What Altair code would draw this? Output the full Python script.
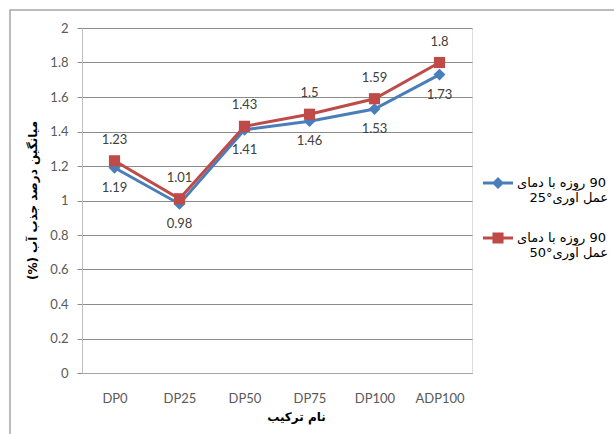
import altair as alt
import pandas as pd

# Mix designs on the x axis
mixes = ["DP0", "DP25", "DP50", "DP75", "DP100", "ADP100"]

# Mean water absorption (%) after 90 days, cured at 25° and 50°
absorb_25 = [1.19, 0.98, 1.41, 1.46, 1.53, 1.73]
absorb_50 = [1.23, 1.01, 1.43, 1.50, 1.59, 1.80]

# Series names ("|" marks the legend line break)
series_25 = "90 روزه با دمای|عمل آوری°25"
series_50 = "90 روزه با دمای|عمل آوری°50"
series_names = [series_25, series_50]
series_colors = ["#4A7EBB", "#BE4B48"]

y_ticks = [0, 0.2, 0.4, 0.6, 0.8, 1.0, 1.2, 1.4, 1.6, 1.8, 2.0]

RLM = "\u200f"  # right-to-left mark, keeps Persian text in RTL order

rows = []
for m, a, b in zip(mixes, absorb_25, absorb_50):
    rows.append({"mix": m, "value": a, "series": series_25})
    rows.append({"mix": m, "value": b, "series": series_50})
df = pd.DataFrame(rows)

LATIN = "Lato"
ARABIC = "DejaVu Sans"

x_enc = alt.X(
    "mix:N",
    sort=mixes,
    scale=alt.Scale(domain=mixes, paddingOuter=0.5, paddingInner=0),
    axis=alt.Axis(
        title=RLM + "نام ترکیب" + RLM,
        titleFont=ARABIC,
        titleFontSize=12,
        titleFontWeight="bold",
        titleColor="#000000",
        titleX=214,
        titleY=43,
        titleBaseline="middle",
        labelFont=LATIN,
        labelFontSize=13,
        labelColor="#595959",
        labelAngle=0,
        labelPadding=19,
        ticks=False,
        tickSize=0,
        domainColor="#a6a6a6",
        grid=False,
    ),
)
y_enc = alt.Y(
    "value:Q",
    scale=alt.Scale(domain=[0, 2], nice=False, zero=True),
    axis=alt.Axis(
        title=RLM + "میانگین درصد جذب آب (%)" + RLM,
        titleFont=ARABIC,
        titleFontSize=12,
        titleFontWeight="bold",
        titleColor="#000000",
        titleX=-50,
        titleY=172,
        titleAlign="center",
        titleBaseline="middle",
        values=y_ticks,
        format=".1~f",
        labelFont=LATIN,
        labelFontSize=13,
        labelColor="#595959",
        labelPadding=9,
        tickSize=5,
        tickColor="#8c8c8c",
        domainColor="#c0c0c0",
        gridColor="#8c8c8c",
        gridWidth=1,
    ),
)
color_scale = alt.Scale(domain=series_names, range=series_colors)

base = alt.Chart(df).encode(
    x=x_enc, y=y_enc, color=alt.Color("series:N", scale=color_scale, legend=None)
)

lines = base.mark_line(strokeWidth=3)

pts_25 = base.transform_filter(alt.datum.series == series_25).mark_point(
    shape="diamond", filled=True, size=140, opacity=1
)
pts_50 = base.transform_filter(alt.datum.series == series_50).mark_point(
    shape="square", filled=True, size=125, opacity=1
)

lab_25 = base.transform_filter(alt.datum.series == series_25).mark_text(
    dy=20, font=LATIN, fontSize=13
).encode(text=alt.Text("value:Q", format=".2~f"), color=alt.value("#404040"))
lab_50 = base.transform_filter(alt.datum.series == series_50).mark_text(
    dy=-21, font=LATIN, fontSize=13
).encode(text=alt.Text("value:Q", format=".2~f"), color=alt.value("#404040"))

# Legend carrier: invisible points whose legend symbols are line + marker shapes
legend_paths = [
    "M-1,-0.1L1,-0.1L1,0.1L-1,0.1Z M0,-0.4L0.4,0L0,0.4L-0.4,0Z",
    "M-1,-0.1L1,-0.1L1,0.1L-1,0.1Z M-0.37,-0.37L0.37,-0.37L0.37,0.37L-0.37,0.37Z",
]
# Each legend line is kept right-to-left; the second line is indented
# (trailing no-break spaces end up on its left side)
legend_label_expr = (
    "[ '\u200f' + split(datum.label, '|')[0],"
    " '\u200f' + split(datum.label, '|')[1] + '\u00a0\u00a0\u00a0\u200f' ]"
)
legend_def = alt.Legend(
    title=None,
    orient="none",
    legendX=401,
    legendY=140,
    labelExpr=legend_label_expr,
    labelFont=ARABIC,
    labelFontSize=13,
    labelColor="#000000",
    labelLimit=200,
    labelOffset=4,
    symbolSize=900,
    symbolStrokeWidth=0,
    symbolOpacity=1,
    symbolOffset=0,
    rowPadding=18,
    padding=0,
)
legend_layer = alt.Chart(df).mark_point(filled=True, opacity=0).encode(
    x=x_enc,
    y=y_enc,
    color=alt.Color("series:N", scale=color_scale, legend=legend_def),
    shape=alt.Shape(
        "series:N",
        scale=alt.Scale(domain=series_names, range=legend_paths),
        legend=legend_def,
    ),
)

# Outer chart frame
frame = alt.Chart(pd.DataFrame({"k": [0]})).mark_rect(
    fill=None, stroke="#a6a6a6", strokeWidth=1.5
).encode(
    x=alt.value(-72), x2=alt.value(560), y=alt.value(-18), y2=alt.value(440)
)

chart = (
    alt.layer(frame, legend_layer, lines, pts_25, pts_50, lab_25, lab_50)
    .properties(
        width=390,
        height=345,
        autosize=alt.AutoSizeParams(type="none"),
        padding={"left": 82, "top": 28, "right": 142, "bottom": 61},
    )
    .configure_view(stroke=None)
    .configure(background="#ffffff")
)

chart.save("out.html", embed_options={"renderer": "svg", "actions": False})
